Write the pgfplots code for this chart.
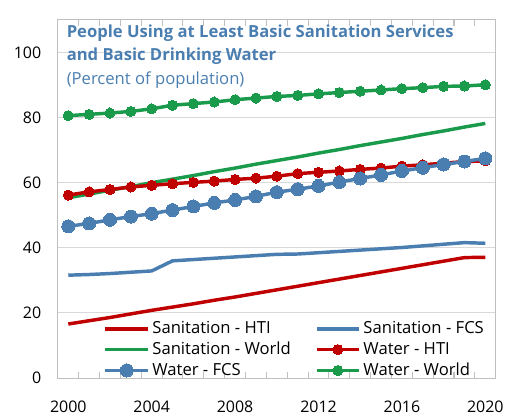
\documentclass[border=0pt]{standalone}
\usepackage{pgfplots}
\pgfplotsset{compat=1.18}
\usepackage{fontspec}
\setmainfont{Open Sans}

\definecolor{hti}{HTML}{C00000}
\definecolor{fcs}{HTML}{4A7EB0}
\definecolor{wld}{HTML}{1A9B4B}
\definecolor{ttl}{HTML}{4A7EB0}
\definecolor{gridc}{HTML}{D9D9D9}
\definecolor{framec}{HTML}{BFBFBF}

\pgfplotstableread{
year sanHTI sanFCS sanWLD watHTI watFCS watWLD
2000 16.6 31.6 55.4 56.2 46.6 80.6
2001 17.6 31.8 56.5 57.2 47.5 81.0
2002 18.6 32.1 57.7 57.9 48.6 81.4
2003 19.7 32.5 58.8 58.7 49.6 81.9
2004 20.8 32.9 60.0 59.2 50.5 82.7
2005 21.8 36.0 61.1 59.7 51.6 83.8
2006 22.8 36.4 62.2 60.1 52.7 84.3
2007 23.9 36.8 63.4 60.5 53.8 84.8
2008 24.9 37.2 64.5 61.0 54.7 85.5
2009 26.0 37.6 65.7 61.4 55.8 86.0
2010 27.1 38.0 66.8 62.0 57.1 86.5
2011 28.2 38.1 67.9 62.8 58.0 86.8
2012 29.3 38.5 69.1 63.2 59.0 87.3
2013 30.4 38.9 70.2 63.6 60.2 87.7
2014 31.5 39.3 71.4 64.1 61.3 88.1
2015 32.6 39.7 72.5 64.5 62.4 88.5
2016 33.7 40.1 73.6 65.1 63.6 88.9
2017 34.8 40.6 74.8 65.5 64.6 89.2
2018 35.9 41.1 75.9 66.0 65.6 89.6
2019 37.0 41.6 77.1 66.5 66.5 89.7
2020 37.1 41.4 78.2 66.7 67.5 90.1
}\datatable

\begin{document}
\begin{tikzpicture}[x=1pt,y=1pt]
\begin{axis}[
  scale only axis,
  width=329.25pt, height=269.25pt,
  xmin=1999.5, xmax=2020.5,
  ymin=0, ymax=110,
  axis line style={framec, line width=0.8pt},
  xtick={2000,2004,...,2020},
  minor xtick={2000.5,2001.5,...,2019.5},
  major tick length=0pt,
  minor tick length=4.5pt,
  tick align=inside,
  minor tick style={framec, line width=0.8pt},
  xticklabel style={yshift=-14pt},
  x tick label style={/pgf/number format/1000 sep={}},
  ytick={0,20,...,100},
  ymajorgrids,
  grid style={gridc, line width=0.8pt},
  yticklabel style={xshift=-9pt},
  tick label style={font=\fontsize{12}{14}\selectfont},
  /pgf/number format/assume math mode=true,
  legend style={draw=none, fill=none, at={(rel axis cs:0.095,-0.015)}, anchor=south west,
    font=\fontsize{12.5}{14}\selectfont, row sep=0.75pt,
    /tikz/every even column/.append style={column sep=16pt}},
  legend cell align=left,
  legend columns=2,
  legend image code/.code={
    \draw[#1] (0pt,0pt) -- (16pt,0pt) -- (32pt,0pt);
    \path[#1] plot coordinates {(16pt,0pt)};
  },
  clip=false,
]
\addplot[hti, line width=2.6pt, no markers] table[x=year, y=sanHTI] {\datatable};
\addlegendentry{Sanitation - HTI}
\addplot[fcs, line width=2.6pt, no markers] table[x=year, y=sanFCS] {\datatable};
\addlegendentry{Sanitation - FCS}
\addplot[wld, line width=2.6pt, no markers] table[x=year, y=sanWLD] {\datatable};
\addlegendentry{Sanitation - World}
\addplot[hti, line width=2.6pt, mark=*, mark size=3.8pt, mark options={solid, fill=hti, draw=hti, line width=0pt}] table[x=year, y=watHTI] {\datatable};
\addlegendentry{Water - HTI}
\addplot[fcs, line width=2.6pt, mark=*, mark size=4.9pt, mark options={solid, fill=fcs, draw=fcs, line width=0pt}] table[x=year, y=watFCS] {\datatable};
\addlegendentry{Water - FCS}
\addplot[wld, line width=2.6pt, mark=*, mark size=3.8pt, mark options={solid, fill=wld, draw=wld, line width=0pt}] table[x=year, y=watWLD] {\datatable};
\addlegendentry{Water - World}
\node[anchor=north west, align=left, inner sep=0pt, text=ttl, font=\fontsize{12.5}{17.5}\selectfont]
  at (rel axis cs:0,1) [xshift=6.5pt, yshift=-3.5pt]
  {\textbf{People Using at Least Basic Sanitation Services}\\
   \textbf{and Basic Drinking Water}\\
   (Percent of population)};
\coordinate (SW) at (rel axis cs:0,0);
\end{axis}
\path (SW) ++(-43.5pt,-27.75pt) rectangle ++(381pt,312pt);
\end{tikzpicture}
\end{document}
